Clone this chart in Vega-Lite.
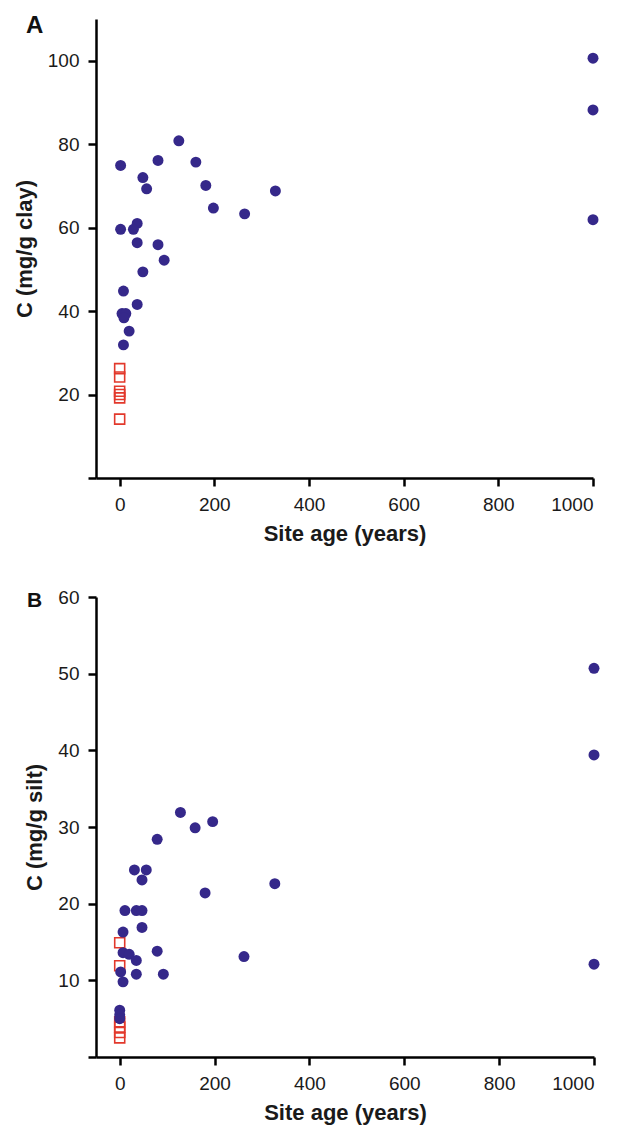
{
  "$schema": "https://vega.github.io/schema/vega-lite/v6.json",
  "background": "white",
  "padding": {"left": 13, "top": 14, "right": 10, "bottom": 5},
  "spacing": 119,
  "bounds": "flush",
  "config": {
    "view": {"stroke": null},
    "font": "Liberation Sans",
    "axis": {
      "grid": false,
      "domainColor": "black",
      "domainWidth": 2.5,
      "tickColor": "black",
      "tickWidth": 2.5,
      "tickSize": 8,
      "labelFont": "Liberation Sans",
      "labelFontSize": 19,
      "labelColor": "#1a1a1a",
      "labelPadding": 9,
      "titleFont": "Liberation Sans",
      "titleFontSize": 22,
      "titleFontWeight": "bold",
      "titleColor": "#1a1a1a"
    }
  },
  "datasets": {
    "pts": [
      {"panel": "A", "type": "site", "age": 125, "C": 80.8},
      {"panel": "A", "type": "site", "age": 2, "C": 74.9},
      {"panel": "A", "type": "site", "age": 81, "C": 76.1},
      {"panel": "A", "type": "site", "age": 161, "C": 75.7},
      {"panel": "A", "type": "site", "age": 49, "C": 72.0},
      {"panel": "A", "type": "site", "age": 57, "C": 69.3},
      {"panel": "A", "type": "site", "age": 182, "C": 70.1},
      {"panel": "A", "type": "site", "age": 329, "C": 68.8},
      {"panel": "A", "type": "site", "age": 198, "C": 64.7},
      {"panel": "A", "type": "site", "age": 264, "C": 63.3},
      {"panel": "A", "type": "site", "age": 2, "C": 59.6},
      {"panel": "A", "type": "site", "age": 37, "C": 61.0},
      {"panel": "A", "type": "site", "age": 29, "C": 59.6},
      {"panel": "A", "type": "site", "age": 37, "C": 56.4},
      {"panel": "A", "type": "site", "age": 81, "C": 55.9},
      {"panel": "A", "type": "site", "age": 94, "C": 52.2},
      {"panel": "A", "type": "site", "age": 49, "C": 49.4},
      {"panel": "A", "type": "site", "age": 8, "C": 44.8},
      {"panel": "A", "type": "site", "age": 37, "C": 41.6},
      {"panel": "A", "type": "site", "age": 5, "C": 39.4},
      {"panel": "A", "type": "site", "age": 13, "C": 39.4},
      {"panel": "A", "type": "site", "age": 9, "C": 38.4},
      {"panel": "A", "type": "site", "age": 20, "C": 35.2},
      {"panel": "A", "type": "site", "age": 8, "C": 31.9},
      {"panel": "A", "type": "site", "age": 1000, "C": 100.6},
      {"panel": "A", "type": "site", "age": 1000, "C": 88.2},
      {"panel": "A", "type": "site", "age": 1000, "C": 61.9},
      {"panel": "A", "type": "ref", "age": 0, "C": 26.2},
      {"panel": "A", "type": "ref", "age": 0, "C": 24.2},
      {"panel": "A", "type": "ref", "age": 0, "C": 20.8},
      {"panel": "A", "type": "ref", "age": 0, "C": 20.0},
      {"panel": "A", "type": "ref", "age": 0, "C": 19.2},
      {"panel": "A", "type": "ref", "age": 0, "C": 14.1},
      {"panel": "B", "type": "site", "age": 128, "C": 31.9},
      {"panel": "B", "type": "site", "age": 159, "C": 29.9},
      {"panel": "B", "type": "site", "age": 196, "C": 30.7},
      {"panel": "B", "type": "site", "age": 79, "C": 28.4},
      {"panel": "B", "type": "site", "age": 31, "C": 24.4},
      {"panel": "B", "type": "site", "age": 56, "C": 24.4},
      {"panel": "B", "type": "site", "age": 47, "C": 23.1},
      {"panel": "B", "type": "site", "age": 180, "C": 21.4},
      {"panel": "B", "type": "site", "age": 327, "C": 22.6},
      {"panel": "B", "type": "site", "age": 11, "C": 19.1},
      {"panel": "B", "type": "site", "age": 35, "C": 19.1},
      {"panel": "B", "type": "site", "age": 47, "C": 19.1},
      {"panel": "B", "type": "site", "age": 47, "C": 16.9},
      {"panel": "B", "type": "site", "age": 7, "C": 16.3},
      {"panel": "B", "type": "site", "age": 7, "C": 13.6},
      {"panel": "B", "type": "site", "age": 20, "C": 13.4},
      {"panel": "B", "type": "site", "age": 35, "C": 12.6},
      {"panel": "B", "type": "site", "age": 79, "C": 13.8},
      {"panel": "B", "type": "site", "age": 262, "C": 13.1},
      {"panel": "B", "type": "site", "age": 2, "C": 11.1},
      {"panel": "B", "type": "site", "age": 35, "C": 10.8},
      {"panel": "B", "type": "site", "age": 92, "C": 10.8},
      {"panel": "B", "type": "site", "age": 7, "C": 9.8},
      {"panel": "B", "type": "site", "age": 0, "C": 6.1},
      {"panel": "B", "type": "site", "age": 0, "C": 5.5},
      {"panel": "B", "type": "site", "age": 0, "C": 5.0},
      {"panel": "B", "type": "site", "age": 1000, "C": 50.7},
      {"panel": "B", "type": "site", "age": 1000, "C": 39.4},
      {"panel": "B", "type": "site", "age": 1000, "C": 12.1},
      {"panel": "B", "type": "ref", "age": 0, "C": 14.9},
      {"panel": "B", "type": "ref", "age": 0, "C": 11.9},
      {"panel": "B", "type": "ref", "age": 0, "C": 4.6},
      {"panel": "B", "type": "ref", "age": 0, "C": 3.9},
      {"panel": "B", "type": "ref", "age": 0, "C": 3.2},
      {"panel": "B", "type": "ref", "age": 0, "C": 2.5}
    ]
  },
  "vconcat": [
    {
      "width": 497,
      "height": 459,
      "title": {"text": "A", "anchor": "start", "frame": "group", "fontSize": 24, "fontWeight": "bold", "color": "#111", "dx": -70, "offset": 0, "dy": 38, "baseline": "alphabetic"},
      "data": {"name": "pts"},
      "transform": [{"filter": "datum.panel == 'A'"}],
      "encoding": {
        "x": {"field": "age", "type": "quantitative", "scale": {"domain": [-50, 1000], "nice": false, "zero": false},
              "axis": {"title": "Site age (years)", "values": [0, 200, 400, 600, 800, 1000], "format": "d", "titlePadding": 9}},
        "y": {"field": "C", "type": "quantitative", "scale": {"domain": [0, 110], "nice": false},
              "axis": {"title": "C (mg/g clay)", "values": [0, 20, 40, 60, 80, 100], "labelExpr": "datum.value == 0 ? '' : datum.label", "titlePadding": 11}}
      },
      "layer": [
        {"transform": [{"filter": "datum.type == 'ref'"}],
         "mark": {"type": "point", "shape": "square", "filled": false, "size": 100, "stroke": "#e2382b", "strokeWidth": 1.6, "opacity": 1}},
        {"transform": [{"filter": "datum.type == 'site'"}],
         "mark": {"type": "circle", "size": 120, "color": "#35288a", "opacity": 1}}
      ]
    },
    {
      "width": 498,
      "height": 460,
      "title": {"text": "B", "anchor": "start", "frame": "group", "fontSize": 21, "fontWeight": "bold", "color": "#111", "dx": -69, "offset": 0, "dy": 40, "baseline": "alphabetic"},
      "data": {"name": "pts"},
      "transform": [{"filter": "datum.panel == 'B'"}],
      "encoding": {
        "x": {"field": "age", "type": "quantitative", "scale": {"domain": [-50, 1000], "nice": false, "zero": false},
              "axis": {"title": "Site age (years)", "values": [0, 200, 400, 600, 800, 1000], "format": "d", "titlePadding": 9}},
        "y": {"field": "C", "type": "quantitative", "scale": {"domain": [0, 60], "nice": false},
              "axis": {"title": "C (mg/g silt)", "values": [0, 10, 20, 30, 40, 50, 60], "labelExpr": "datum.value == 0 ? '' : datum.label", "titlePadding": 11}}
      },
      "layer": [
        {"transform": [{"filter": "datum.type == 'ref'"}],
         "mark": {"type": "point", "shape": "square", "filled": false, "size": 100, "stroke": "#e2382b", "strokeWidth": 1.6, "opacity": 1}},
        {"transform": [{"filter": "datum.type == 'site'"}],
         "mark": {"type": "circle", "size": 120, "color": "#35288a", "opacity": 1}}
      ]
    }
  ]
}
